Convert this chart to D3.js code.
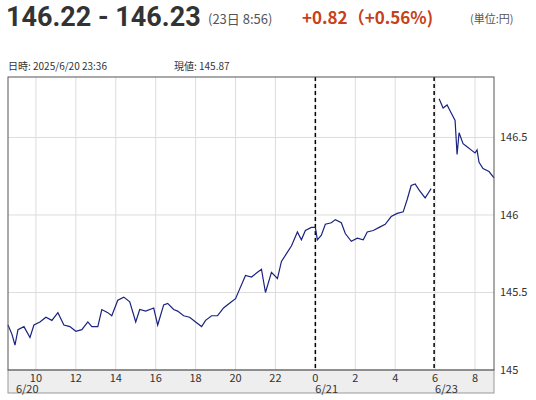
<!DOCTYPE html>
<html>
<head>
<meta charset="utf-8">
<script src="https://cdn.jsdelivr.net/npm/d3@7"></script>
<style>
body { margin: 0; background: #fff; font-family: "Noto Sans CJK JP", "Noto Sans", sans-serif; }
</style>
</head>
<body>
<svg id="chart" width="536" height="400"></svg>
<script>
// hours on a continuous axis: 6/20 0:00 = 0, 6/21 0:00 = 24, 6/23 6:00 = 30
const hours = [8.6, 8.8, 8.95, 9.1, 9.4, 9.7, 9.9, 10.2, 10.5, 10.8, 11.1, 11.4, 11.7, 12.0, 12.3, 12.6, 12.8, 13.1, 13.3, 13.6, 13.8, 14.1, 14.4, 14.7, 15.0, 15.2, 15.5, 15.9, 16.1, 16.4, 16.6, 16.9, 17.1, 17.4, 17.7, 18.0, 18.3, 18.5, 18.8, 19.1, 19.4, 19.7, 20.0, 20.2, 20.5, 20.8, 21.1, 21.3, 21.5, 21.8, 22.1, 22.3, 22.6, 22.8, 23.1, 23.3, 23.5, 23.8, 24.0, 24.1, 24.3, 24.5, 24.8, 25.0, 25.3, 25.5, 25.8, 26.1, 26.4, 26.6, 26.9, 27.2, 27.5, 27.8, 28.1, 28.4, 28.6, 28.8, 29.0, 29.2, 29.5, 29.7, 29.8,
  30.2, 30.4, 30.6, 30.8, 31.0, 31.1, 31.2, 31.4, 31.6, 31.8, 32.0, 32.1, 32.2, 32.4, 32.7, 32.95];
const prices = [145.29, 145.23, 145.16, 145.26, 145.28, 145.21, 145.29, 145.31, 145.34, 145.32, 145.37, 145.29, 145.28, 145.25, 145.26, 145.31, 145.28, 145.28, 145.39, 145.37, 145.35, 145.45, 145.47, 145.44, 145.31, 145.39, 145.38, 145.40, 145.29, 145.42, 145.43, 145.39, 145.38, 145.35, 145.34, 145.31, 145.28, 145.32, 145.35, 145.35, 145.40, 145.43, 145.46, 145.52, 145.61, 145.60, 145.63, 145.65, 145.50, 145.63, 145.59, 145.70, 145.76, 145.80, 145.89, 145.84, 145.90, 145.92, 145.92, 145.84, 145.87, 145.94, 145.95, 145.97, 145.95, 145.88, 145.83, 145.85, 145.84, 145.89, 145.90, 145.92, 145.94, 145.99, 146.01, 146.02, 146.10, 146.19, 146.20, 146.16, 146.11, 146.15, 146.17,
  146.75, 146.69, 146.71, 146.66, 146.61, 146.39, 146.53, 146.46, 146.44, 146.42, 146.40, 146.42, 146.34, 146.30, 146.28, 146.24];
const session2 = 83; // index where the 6/23 session starts
const xTicks = [10, 12, 14, 16, 18, 20, 22, 24, 26, 28, 30, 32];
const xTickLabels = ["10", "12", "14", "16", "18", "20", "22", "0", "2", "4", "6", "8"];
const dateLabels = [{ h: 10, t: "6/20", dx: -20 }, { h: 24, t: "6/21", dx: 0 }, { h: 30, t: "6/23", dx: 0 }];
const dayBreaks = [24, 29.95];
const yTicks = [145, 145.5, 146, 146.5];

const svg = d3.select('#chart');
const pLeft = 8, pRight = 494, pTop = 77, pBottom = 370;

const x = d3.scaleLinear().domain([8.6, 32.95]).range([pLeft, pRight]);
const y = d3.scaleLinear().domain([145, 146.89]).range([pBottom, pTop]);

// header
svg.append('text').attr('x', 6).attr('y', 26).attr('font-size', 27).attr('font-weight', 'bold')
    .attr('fill', '#333').attr('font-family', 'Roboto, "Noto Sans", sans-serif').text('146.22 - 146.23');
svg.append('text').attr('x', 208).attr('y', 24).attr('font-size', 13).attr('fill', '#555').text('(23日 8:56)');
svg.append('text').attr('x', 302).attr('y', 24).attr('font-size', 17).attr('font-weight', 'bold')
    .attr('fill', '#c8401a').text('+0.82（+0.56%)');
svg.append('text').attr('x', 470).attr('y', 23).attr('font-size', 11).attr('fill', '#555').text('(単位:円)');
svg.append('text').attr('x', 8).attr('y', 70).attr('font-size', 10).attr('fill', '#333').text('日時: 2025/6/20  23:36');
svg.append('text').attr('x', 174).attr('y', 70).attr('font-size', 10).attr('fill', '#333').text('現値: 145.87');

// grid
svg.append('g').selectAll('line').data(xTicks).join('line')
    .attr('x1', d => x(d)).attr('x2', d => x(d)).attr('y1', pTop).attr('y2', pBottom)
    .attr('stroke', '#ddd');
svg.append('g').selectAll('line').data(yTicks.slice(1)).join('line')
    .attr('x1', pLeft).attr('x2', pRight).attr('y1', d => y(d)).attr('y2', d => y(d))
    .attr('stroke', '#ddd');

// axis band
svg.append('rect').attr('x', pLeft).attr('y', pBottom).attr('width', pRight - pLeft).attr('height', 23)
    .attr('fill', '#eee').attr('stroke', '#999');
svg.append('g').selectAll('text').data(xTicks).join('text')
    .attr('x', d => x(d)).attr('y', pBottom + 12).attr('text-anchor', 'middle')
    .attr('font-size', 11).attr('fill', '#333').text((d, i) => xTickLabels[i]);
svg.append('g').selectAll('text').data(dateLabels).join('text')
    .attr('x', d => x(d.h) + d.dx).attr('y', pBottom + 23)
    .attr('font-size', 11).attr('fill', '#333').text(d => d.t);

// y labels
svg.append('g').selectAll('text').data(yTicks).join('text')
    .attr('x', pRight + 6).attr('y', d => y(d) + 4)
    .attr('font-size', 11).attr('fill', '#333').text(d => d);

// day breaks
svg.append('g').selectAll('line').data(dayBreaks).join('line')
    .attr('x1', d => x(d)).attr('x2', d => x(d)).attr('y1', pTop).attr('y2', pBottom)
    .attr('stroke', '#000').attr('stroke-width', 1.5).attr('stroke-dasharray', '4,3');

// price line
const pts = hours.map((h, i) => ({ h, v: prices[i], i }));
const line = d3.line().x(d => x(d.h)).y(d => y(d.v));
[pts.slice(0, session2), pts.slice(session2)].forEach(seg => {
    svg.append('path').datum(seg).attr('d', line)
        .attr('fill', 'none').attr('stroke', '#1a237e').attr('stroke-width', 1.2);
});

// frame
svg.append('rect').attr('x', pLeft).attr('y', pTop).attr('width', pRight - pLeft).attr('height', pBottom - pTop)
    .attr('fill', 'none').attr('stroke', '#555');
</script>
</body>
</html>
